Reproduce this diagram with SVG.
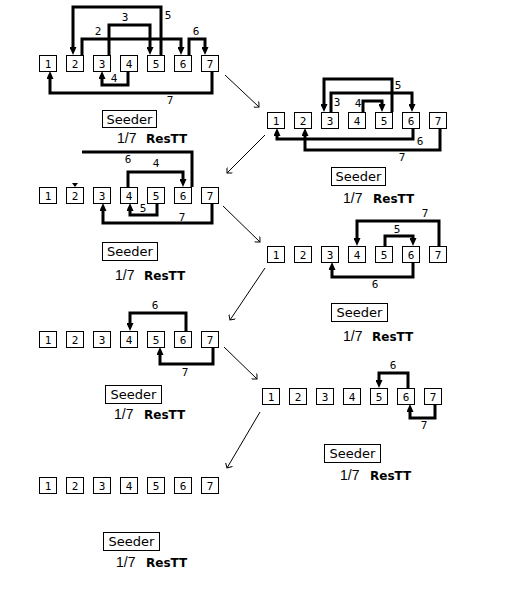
<svg xmlns="http://www.w3.org/2000/svg" width="508" height="595" viewBox="0 0 508 595">
<defs>
<style>
.bx{fill:#fff;stroke:#000;stroke-width:1}
.d{font-family:"DejaVu Sans Mono",monospace;font-size:11px;text-anchor:middle;fill:#000}
.c{fill:none;stroke:#000;stroke-width:3;marker-end:url(#ah)}
.cn{fill:none;stroke:#000;stroke-width:3}
.dg{fill:none;stroke:#000;stroke-width:1;marker-end:url(#oa)}
.sd{font-family:"DejaVu Sans",sans-serif;font-size:13px;text-anchor:middle;fill:#000}
.fr{font-family:"Liberation Sans",sans-serif;font-size:14px;fill:#000}
.rt{font-family:"DejaVu Sans",sans-serif;font-size:12px;font-weight:bold;fill:#000}
</style>
<marker id="ah" viewBox="0 0 8 7" refX="2" refY="3.5" markerWidth="8" markerHeight="7" markerUnits="userSpaceOnUse" orient="auto"><path d="M0,0 L8,3.5 L0,7z" fill="#000"/></marker>
<marker id="oa" viewBox="0 0 8 8" refX="7" refY="4" markerWidth="8" markerHeight="8" markerUnits="userSpaceOnUse" orient="auto"><path d="M3,0 L7,4 L3,8" fill="none" stroke="#000" stroke-width="1"/></marker>
</defs>
<rect width="508" height="595" fill="#fff"/>

<g id="connectors">
<!-- row 1 left -->
<path class="c" d="M161,55 V7 H73 V49"/>
<path class="c" d="M109,55 V25 H150 V49"/>
<path class="c" d="M82,55 V39 H181 V49"/>
<path class="c" d="M189,55 V39 H205 V49"/>
<path class="c" d="M128,71 V85 H102 V77"/>
<path class="c" d="M212,71 V93 H50 V77"/>
<!-- row 1 right -->
<path class="c" d="M392,112 V79 H324 V106"/>
<path class="c" d="M331,112 V93 H412 V106"/>
<path class="c" d="M363,112 V101 H382 V106"/>
<path class="c" d="M413,128 V139 H277 V134"/>
<path class="c" d="M440,128 V150 H305 V134"/>
<!-- row 2 left -->
<path class="cn" d="M82,152 H192 V187"/>
<path d="M72,183 L78,183 L75,187z" fill="#000"/>
<path class="c" d="M128,187 V172 H183 V181"/>
<path class="c" d="M157,203 V215 H130 V209"/>
<path class="c" d="M212,203 V223 H103 V209"/>
<!-- row 2 right -->
<path class="c" d="M439,246 V221 H357 V240"/>
<path class="c" d="M385,246 V236 H413 V240"/>
<path class="c" d="M413,262 V277 H332 V268"/>
<!-- row 3 left -->
<path class="c" d="M186,331 V313 H130 V325"/>
<path class="c" d="M213,347 V364 H160 V353"/>
<!-- row 3 right -->
<path class="c" d="M408,388 V373 H379 V382"/>
<path class="c" d="M435,404 V418 H410 V410"/>
<!-- transitions -->
<path class="dg" d="M225,75 L259,107"/>
<path class="dg" d="M265,135 L227,173"/>
<path class="dg" d="M223,206 L260,242"/>
<path class="dg" d="M265,268 L230,320"/>
<path class="dg" d="M224,347 L257,379"/>
<path class="dg" d="M260,412 L227,468"/>
<!-- labels -->
<text class="d" x="168" y="19">5</text>
<text class="d" x="125" y="21">3</text>
<text class="d" x="98" y="35">2</text>
<text class="d" x="196" y="35">6</text>
<text class="d" x="114" y="82">4</text>
<text class="d" x="170" y="104">7</text>
<text class="d" x="398" y="89">5</text>
<text class="d" x="337" y="106">3</text>
<text class="d" x="358" y="107">4</text>
<text class="d" x="420" y="145">6</text>
<text class="d" x="402" y="161">7</text>
<text class="d" x="128" y="163">6</text>
<text class="d" x="156" y="167">4</text>
<text class="d" x="143" y="212">5</text>
<text class="d" x="182" y="221">7</text>
<text class="d" x="425" y="217">7</text>
<text class="d" x="397" y="233">5</text>
<text class="d" x="375" y="288">6</text>
<text class="d" x="155" y="309">6</text>
<text class="d" x="185" y="376">7</text>
<text class="d" x="393" y="369">6</text>
<text class="d" x="424" y="429">7</text>
</g>

<g id="state1">
<g id="s1n1"><rect class="bx" x="39.5" y="55.5" width="17" height="16"/><text class="d" x="48" y="67.5">1</text></g>
<g id="s1n2"><rect class="bx" x="66.5" y="55.5" width="17" height="16"/><text class="d" x="75" y="67.5">2</text></g>
<g id="s1n3"><rect class="bx" x="93.5" y="55.5" width="17" height="16"/><text class="d" x="102" y="67.5">3</text></g>
<g id="s1n4"><rect class="bx" x="120.5" y="55.5" width="17" height="16"/><text class="d" x="129" y="67.5">4</text></g>
<g id="s1n5"><rect class="bx" x="147.5" y="55.5" width="17" height="16"/><text class="d" x="156" y="67.5">5</text></g>
<g id="s1n6"><rect class="bx" x="174.5" y="55.5" width="17" height="16"/><text class="d" x="183" y="67.5">6</text></g>
<g id="s1n7"><rect class="bx" x="201.5" y="55.5" width="17" height="16"/><text class="d" x="210" y="67.5">7</text></g>
<g id="s1seed"><rect class="bx" x="102.5" y="110.5" width="54" height="17"/><text class="sd" x="129.5" y="123.5">Seeder</text><text class="fr" x="117" y="143">1/7</text><text class="rt" x="146" y="143">ResTT</text></g>
</g>

<g id="state2">
<g id="s2n1"><rect class="bx" x="267.5" y="112.5" width="17" height="16"/><text class="d" x="276" y="124.5">1</text></g>
<g id="s2n2"><rect class="bx" x="294.5" y="112.5" width="17" height="16"/><text class="d" x="303" y="124.5">2</text></g>
<g id="s2n3"><rect class="bx" x="321.5" y="112.5" width="17" height="16"/><text class="d" x="330" y="124.5">3</text></g>
<g id="s2n4"><rect class="bx" x="348.5" y="112.5" width="17" height="16"/><text class="d" x="357" y="124.5">4</text></g>
<g id="s2n5"><rect class="bx" x="375.5" y="112.5" width="17" height="16"/><text class="d" x="384" y="124.5">5</text></g>
<g id="s2n6"><rect class="bx" x="402.5" y="112.5" width="17" height="16"/><text class="d" x="411" y="124.5">6</text></g>
<g id="s2n7"><rect class="bx" x="429.5" y="112.5" width="17" height="16"/><text class="d" x="438" y="124.5">7</text></g>
<g id="s2seed"><rect class="bx" x="331.5" y="167.5" width="54" height="18"/><text class="sd" x="358.5" y="181">Seeder</text><text class="fr" x="343" y="203">1/7</text><text class="rt" x="373" y="203">ResTT</text></g>
</g>

<g id="state3">
<g id="s3n1"><rect class="bx" x="39.5" y="187.5" width="17" height="16"/><text class="d" x="48" y="199.5">1</text></g>
<g id="s3n2"><rect class="bx" x="66.5" y="187.5" width="17" height="16"/><text class="d" x="75" y="199.5">2</text></g>
<g id="s3n3"><rect class="bx" x="93.5" y="187.5" width="17" height="16"/><text class="d" x="102" y="199.5">3</text></g>
<g id="s3n4"><rect class="bx" x="120.5" y="187.5" width="17" height="16"/><text class="d" x="129" y="199.5">4</text></g>
<g id="s3n5"><rect class="bx" x="147.5" y="187.5" width="17" height="16"/><text class="d" x="156" y="199.5">5</text></g>
<g id="s3n6"><rect class="bx" x="174.5" y="187.5" width="17" height="16"/><text class="d" x="183" y="199.5">6</text></g>
<g id="s3n7"><rect class="bx" x="201.5" y="187.5" width="17" height="16"/><text class="d" x="210" y="199.5">7</text></g>
<g id="s3seed"><rect class="bx" x="102.5" y="242.5" width="55" height="18"/><text class="sd" x="130" y="256">Seeder</text><text class="fr" x="115" y="280">1/7</text><text class="rt" x="144" y="280">ResTT</text></g>
</g>

<g id="state4">
<g id="s4n1"><rect class="bx" x="267.5" y="246.5" width="17" height="16"/><text class="d" x="276" y="258.5">1</text></g>
<g id="s4n2"><rect class="bx" x="294.5" y="246.5" width="17" height="16"/><text class="d" x="303" y="258.5">2</text></g>
<g id="s4n3"><rect class="bx" x="321.5" y="246.5" width="17" height="16"/><text class="d" x="330" y="258.5">3</text></g>
<g id="s4n4"><rect class="bx" x="348.5" y="246.5" width="17" height="16"/><text class="d" x="357" y="258.5">4</text></g>
<g id="s4n5"><rect class="bx" x="375.5" y="246.5" width="17" height="16"/><text class="d" x="384" y="258.5">5</text></g>
<g id="s4n6"><rect class="bx" x="402.5" y="246.5" width="17" height="16"/><text class="d" x="411" y="258.5">6</text></g>
<g id="s4n7"><rect class="bx" x="429.5" y="246.5" width="17" height="16"/><text class="d" x="438" y="258.5">7</text></g>
<g id="s4seed"><rect class="bx" x="331.5" y="303.5" width="56" height="18"/><text class="sd" x="359.5" y="317">Seeder</text><text class="fr" x="343" y="341">1/7</text><text class="rt" x="372" y="341">ResTT</text></g>
</g>

<g id="state5">
<g id="s5n1"><rect class="bx" x="39.5" y="331.5" width="17" height="16"/><text class="d" x="48" y="343.5">1</text></g>
<g id="s5n2"><rect class="bx" x="66.5" y="331.5" width="17" height="16"/><text class="d" x="75" y="343.5">2</text></g>
<g id="s5n3"><rect class="bx" x="93.5" y="331.5" width="17" height="16"/><text class="d" x="102" y="343.5">3</text></g>
<g id="s5n4"><rect class="bx" x="120.5" y="331.5" width="17" height="16"/><text class="d" x="129" y="343.5">4</text></g>
<g id="s5n5"><rect class="bx" x="147.5" y="331.5" width="17" height="16"/><text class="d" x="156" y="343.5">5</text></g>
<g id="s5n6"><rect class="bx" x="174.5" y="331.5" width="17" height="16"/><text class="d" x="183" y="343.5">6</text></g>
<g id="s5n7"><rect class="bx" x="201.5" y="331.5" width="17" height="16"/><text class="d" x="210" y="343.5">7</text></g>
<g id="s5seed"><rect class="bx" x="105.5" y="385.5" width="56" height="18"/><text class="sd" x="133.5" y="399">Seeder</text><text class="fr" x="114" y="419">1/7</text><text class="rt" x="144" y="419">ResTT</text></g>
</g>

<g id="state6">
<g id="s6n1"><rect class="bx" x="262.5" y="388.5" width="17" height="16"/><text class="d" x="271" y="400.5">1</text></g>
<g id="s6n2"><rect class="bx" x="289.5" y="388.5" width="17" height="16"/><text class="d" x="298" y="400.5">2</text></g>
<g id="s6n3"><rect class="bx" x="316.5" y="388.5" width="17" height="16"/><text class="d" x="325" y="400.5">3</text></g>
<g id="s6n4"><rect class="bx" x="343.5" y="388.5" width="17" height="16"/><text class="d" x="352" y="400.5">4</text></g>
<g id="s6n5"><rect class="bx" x="370.5" y="388.5" width="17" height="16"/><text class="d" x="379" y="400.5">5</text></g>
<g id="s6n6"><rect class="bx" x="397.5" y="388.5" width="17" height="16"/><text class="d" x="406" y="400.5">6</text></g>
<g id="s6n7"><rect class="bx" x="424.5" y="388.5" width="17" height="16"/><text class="d" x="433" y="400.5">7</text></g>
<g id="s6seed"><rect class="bx" x="324.5" y="444.5" width="56" height="18"/><text class="sd" x="352.5" y="458">Seeder</text><text class="fr" x="340" y="480">1/7</text><text class="rt" x="370" y="480">ResTT</text></g>
</g>

<g id="state7">
<g id="s7n1"><rect class="bx" x="39.5" y="477.5" width="17" height="16"/><text class="d" x="48" y="489.5">1</text></g>
<g id="s7n2"><rect class="bx" x="66.5" y="477.5" width="17" height="16"/><text class="d" x="75" y="489.5">2</text></g>
<g id="s7n3"><rect class="bx" x="93.5" y="477.5" width="17" height="16"/><text class="d" x="102" y="489.5">3</text></g>
<g id="s7n4"><rect class="bx" x="120.5" y="477.5" width="17" height="16"/><text class="d" x="129" y="489.5">4</text></g>
<g id="s7n5"><rect class="bx" x="147.5" y="477.5" width="17" height="16"/><text class="d" x="156" y="489.5">5</text></g>
<g id="s7n6"><rect class="bx" x="174.5" y="477.5" width="17" height="16"/><text class="d" x="183" y="489.5">6</text></g>
<g id="s7n7"><rect class="bx" x="201.5" y="477.5" width="17" height="16"/><text class="d" x="210" y="489.5">7</text></g>
<g id="s7seed"><rect class="bx" x="103.5" y="532.5" width="56" height="18"/><text class="sd" x="131.5" y="546">Seeder</text><text class="fr" x="116" y="567">1/7</text><text class="rt" x="146" y="567">ResTT</text></g>
</g>
</svg>
